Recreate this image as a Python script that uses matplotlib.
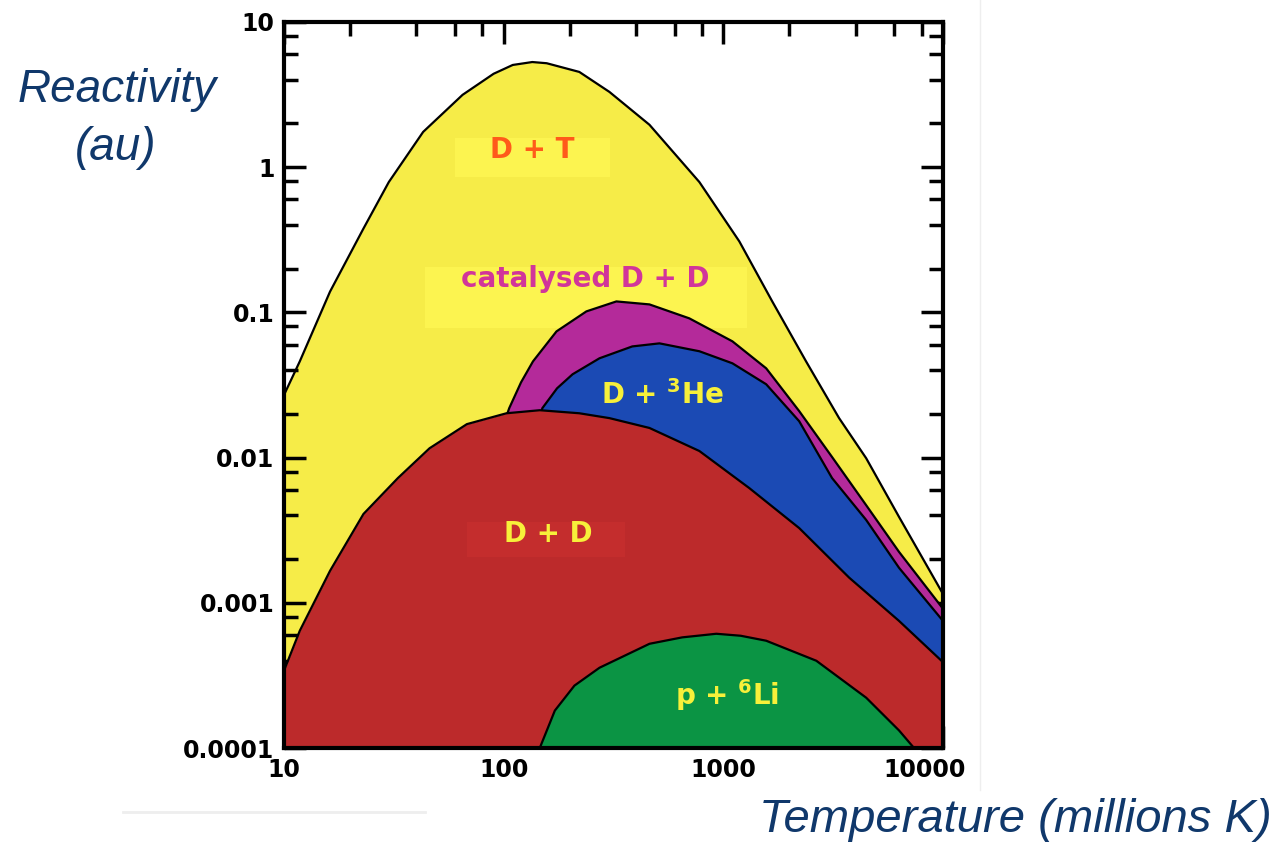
import numpy as np
import matplotlib
matplotlib.use("Agg")
import matplotlib.pyplot as plt
from matplotlib.ticker import LogLocator, NullFormatter, FixedLocator, FixedFormatter
from matplotlib.patches import Rectangle
from matplotlib.lines import Line2D
from matplotlib.transforms import ScaledTranslation

plt.rcParams['mathtext.fontset'] = 'custom'
plt.rcParams['mathtext.rm'] = 'DejaVu Sans:bold'
plt.rcParams['mathtext.it'] = 'DejaVu Sans:bold'
plt.rcParams['mathtext.bf'] = 'DejaVu Sans:bold'

# temperature (millions K) / reactivity (au)
dt_T = [10, 11.8, 16.2, 23, 30, 43, 65, 90, 110, 135, 157, 221, 303, 461, 778, 1183, 1670, 2380, 3365, 4470, 6310, 10000]
dt_R = [0.027, 0.046, 0.139, 0.378, 0.79, 1.75, 3.15, 4.4, 5.06, 5.3, 5.2, 4.53, 3.30, 1.96, 0.79, 0.308, 0.119, 0.046, 0.0187, 0.0099, 0.0039, 0.00115]

cat_T = [100, 106, 120, 136, 174, 238, 326, 461, 700, 1100, 1567, 2215, 3125, 4470, 6310, 10000]
cat_R = [0.017, 0.0219, 0.033, 0.046, 0.074, 0.1016, 0.119, 0.1135, 0.091, 0.0632, 0.0412, 0.0209, 0.0101, 0.0047, 0.00224, 0.00091]

he_T = [145, 150, 175, 206, 273, 385, 512, 778, 1100, 1567, 2215, 3125, 4470, 6310, 10000]
he_R = [0.018, 0.0219, 0.030, 0.0375, 0.0483, 0.0583, 0.0612, 0.054, 0.0446, 0.032, 0.0178, 0.00723, 0.00372, 0.00174, 0.00075]

dd_T = [10, 11.8, 16.2, 23, 33, 46, 68, 103, 146, 221, 303, 461, 778, 1312, 2215, 3740, 6310, 10000]
dd_R = [0.000341, 0.000642, 0.00166, 0.00409, 0.00723, 0.0116, 0.0170, 0.0202, 0.0212, 0.0202, 0.0187, 0.0160, 0.0111, 0.00617, 0.00327, 0.00149, 0.00075, 0.00039]

li_T = [146, 171, 210, 273, 461, 650, 929, 1200, 1567, 2650, 4470, 6310, 7380]
li_R = [0.0001, 0.000181, 0.000269, 0.000357, 0.000522, 0.000578, 0.000612, 0.000593, 0.000548, 0.000399, 0.000222, 0.000132, 0.0001]

x_ticks = [10, 100, 1000, 10000]
x_labels = ['10', '100', '1000', '10000']
y_ticks = [1e-4, 1e-3, 1e-2, 1e-1, 1, 10]
y_labels = ['0.0001', '0.001', '0.01', '0.1', '1', '10']

W, H = 1281, 844
fig = plt.figure(figsize=(W / 100, H / 100), dpi=100)
ax = fig.add_axes([284 / W, 1 - 748 / H, (943 - 284) / W, (748 - 22) / H])
ax.set_xscale('log')
ax.set_yscale('log')

layers = [
    (dt_T, dt_R, '#F6EC48'),
    (cat_T, cat_R, '#B42A9A'),
    (he_T, he_R, '#1B4AB4'),
    (dd_T, dd_R, '#BC2A2B'),
    (li_T, li_R, '#0B9444'),
]
for i, (T, R, col) in enumerate(layers):
    ax.fill_between(T, R, 1e-5, color=col, lw=0, zorder=1 + 2 * i)
    ax.plot(T, R, color='black', lw=1.6, zorder=2 + 2 * i)

ax.set_xlim(10, 10000)
ax.set_ylim(1e-4, 10)

# label patches (slightly lighter boxes behind the labels)
def axfrac(px, py):
    return (px - 284) / (943 - 284), (748 - py) / (748 - 22)

for (x0, y0, x1, y1, fc, z) in [(455, 177, 610, 138, '#FCF450', 2.5),
                                 (425, 328, 747, 267, '#FCF450', 2.5),
                                 (467, 557, 625, 522, '#C42D2D', 8.5)]:
    fx0, fy0 = axfrac(x0, y0)
    fx1, fy1 = axfrac(x1, y1)
    ax.add_patch(Rectangle((fx0, fy0), fx1 - fx0, fy1 - fy0, transform=ax.transAxes,
                           facecolor=fc, edgecolor='none', zorder=z))

txt = dict(transform=ax.transAxes, ha='center', va='center', fontweight='bold',
           family='DejaVu Sans', zorder=21)
ax.text(*axfrac(532, 150), 'D + T', color='#FF5A1A', fontsize=20, **txt)
ax.text(*axfrac(585, 279), 'catalysed D + D', color='#D1359A', fontsize=20, **txt)
ax.text(*axfrac(662, 395), r'D + $^{3}$He', color='#F7F03A', fontsize=20, **txt)
ax.text(*axfrac(548, 534), 'D + D', color='#F7F03A', fontsize=20, **txt)
ax.text(*axfrac(727, 695), r'p + $^{6}$Li', color='#F7F03A', fontsize=20, **txt)

# axes and ticks
for s in ax.spines.values():
    s.set_linewidth(3)
    s.set_zorder(30)
ax.xaxis.set_major_locator(FixedLocator(x_ticks))
ax.xaxis.set_major_formatter(FixedFormatter(x_labels))
ax.yaxis.set_major_locator(FixedLocator(y_ticks))
ax.yaxis.set_major_formatter(FixedFormatter(y_labels))
ax.xaxis.set_minor_locator(LogLocator(base=10, subs=(2, 4, 6, 8)))
ax.yaxis.set_minor_locator(LogLocator(base=10, subs=(2, 4, 6, 8)))
ax.xaxis.set_minor_formatter(NullFormatter())
ax.yaxis.set_minor_formatter(NullFormatter())
ax.tick_params(which='both', direction='in', top=True, right=True, width=2.5)
ax.tick_params(which='major', length=16)
ax.tick_params(which='minor', length=10)
ax.tick_params(axis='x', pad=7)
ax.tick_params(axis='y', pad=7)
for lab in ax.get_xticklabels() + ax.get_yticklabels():
    lab.set_fontfamily('DejaVu Sans')
    lab.set_fontweight('bold')
    lab.set_fontsize(17)
last = ax.get_xticklabels()[-1]
last.set_transform(last.get_transform() + ScaledTranslation(-18 / 100, 0, fig.dpi_scale_trans))

# axis titles
blue = '#10386B'
lbl = dict(family='Liberation Sans', style='italic', color=blue,
           ha='center', va='center')
fig.text(117 / W, 1 - 90 / H, 'Reactivity', fontsize=33, **lbl)
fig.text(116 / W, 1 - 148 / H, '(au)', fontsize=33, **lbl)
fig.text(1015 / W, 1 - 820 / H, 'Temperature (millions K)', fontsize=34, **lbl)

# faint page lines
fig.add_artist(Line2D([980 / W, 980 / W], [1, 1 - 790 / H], color='#EEEEEE', lw=1))
fig.add_artist(Line2D([123 / W, 425 / W], [1 - 812 / H, 1 - 812 / H], color='#EEEEEE', lw=2))

fig.savefig('out.png', dpi=100)
